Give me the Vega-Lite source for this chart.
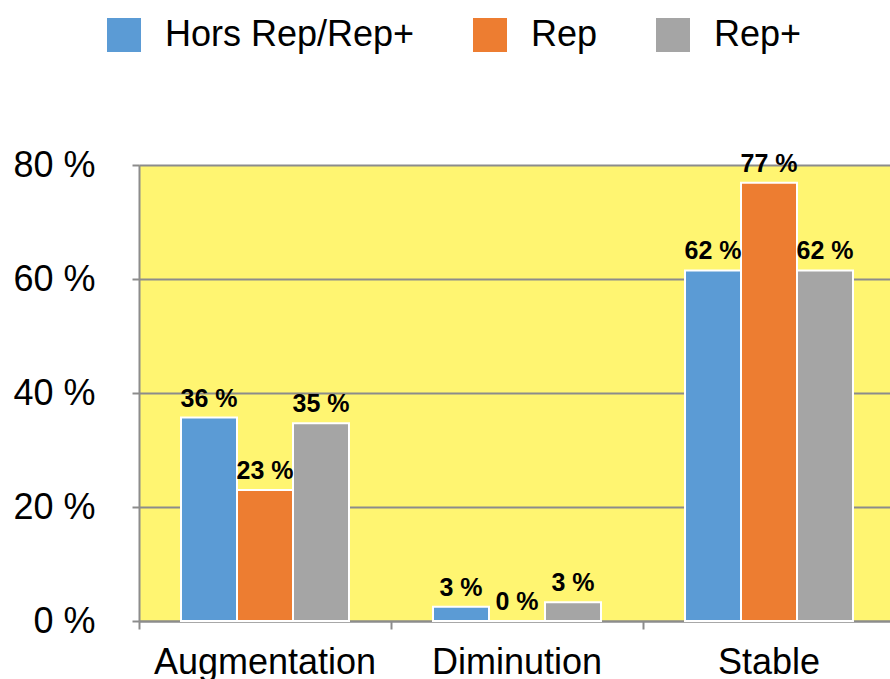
{
  "$schema": "https://vega.github.io/schema/vega-lite/v6.json",
  "width": 751,
  "height": 456,
  "autosize": "none",
  "padding": {"left": 139, "top": 165, "right": 0, "bottom": 58},
  "background": "white",
  "config": {
    "view": {"fill": "#fff571", "stroke": null},
    "font": "Liberation Sans"
  },
  "data": {
    "values": [
      {"cat": "Augmentation", "grp": "Hors Rep/Rep+", "v": 35.7, "lab": "36 %"},
      {"cat": "Augmentation", "grp": "Rep", "v": 23.0, "lab": "23 %"},
      {"cat": "Augmentation", "grp": "Rep+", "v": 34.7, "lab": "35 %"},
      {"cat": "Diminution", "grp": "Hors Rep/Rep+", "v": 2.5, "lab": "3 %"},
      {"cat": "Diminution", "grp": "Rep", "v": 0, "lab": "0 %"},
      {"cat": "Diminution", "grp": "Rep+", "v": 3.3, "lab": "3 %"},
      {"cat": "Stable", "grp": "Hors Rep/Rep+", "v": 61.5, "lab": "62 %"},
      {"cat": "Stable", "grp": "Rep", "v": 76.9, "lab": "77 %"},
      {"cat": "Stable", "grp": "Rep+", "v": 61.5, "lab": "62 %"}
    ]
  },
  "encoding": {
    "x": {
      "field": "cat",
      "type": "nominal",
      "sort": ["Augmentation", "Diminution", "Stable"],
      "scale": {"paddingInner": 0, "paddingOuter": 0, "range": [0, 756]},
      "axis": {
        "title": null,
        "labelAngle": 0,
        "labelFontSize": 36,
        "labelColor": "black",
        "labelLimit": 0,
        "labelPadding": 16,
        "bandPosition": 0,
        "tickSize": 8,
        "tickColor": "#8c8c8c",
        "tickWidth": 2,
        "domainColor": "#8c8c8c",
        "domainWidth": 2,
        "grid": false
      }
    },
    "xOffset": {
      "field": "grp",
      "type": "nominal",
      "sort": ["Hors Rep/Rep+", "Rep", "Rep+"],
      "scale": {"paddingInner": 0, "paddingOuter": 0.75}
    },
    "y": {
      "field": "v",
      "type": "quantitative",
      "scale": {"domain": [0, 80], "nice": false},
      "axis": {
        "title": null,
        "values": [0, 20, 40, 60, 80],
        "labelExpr": "datum.value + ' %'",
        "labelFontSize": 36,
        "labelColor": "black",
        "labelLimit": 0,
        "labelPadding": 37,
        "tickSize": 7,
        "tickColor": "#8c8c8c",
        "tickWidth": 2,
        "domainColor": "#8c8c8c",
        "domainWidth": 2,
        "grid": true,
        "gridColor": "#8c8c8c",
        "gridWidth": 2
      }
    }
  },
  "layer": [
    {
      "mark": {"type": "bar", "stroke": "white", "strokeWidth": 2},
      "encoding": {
        "color": {
          "field": "grp",
          "type": "nominal",
          "scale": {
            "domain": ["Hors Rep/Rep+", "Rep", "Rep+"],
            "range": ["#5b9bd5", "#ed7d31", "#a5a5a5"]
          },
          "legend": {
            "title": null,
            "orient": "none",
            "legendX": -33,
            "legendY": -148,
            "direction": "horizontal",
            "symbolType": "square",
            "symbolSize": 1156,
            "symbolStrokeWidth": 0,
            "labelFontSize": 36,
            "labelColor": "black",
            "labelLimit": 0,
            "labelOffset": 23,
            "columnPadding": 57,
            "padding": 0
          }
        }
      }
    },
    {
      "mark": {"type": "text", "dy": -11, "baseline": "alphabetic", "fontWeight": "bold", "fontSize": 25, "color": "black"},
      "encoding": {"text": {"field": "lab"}}
    }
  ]
}
